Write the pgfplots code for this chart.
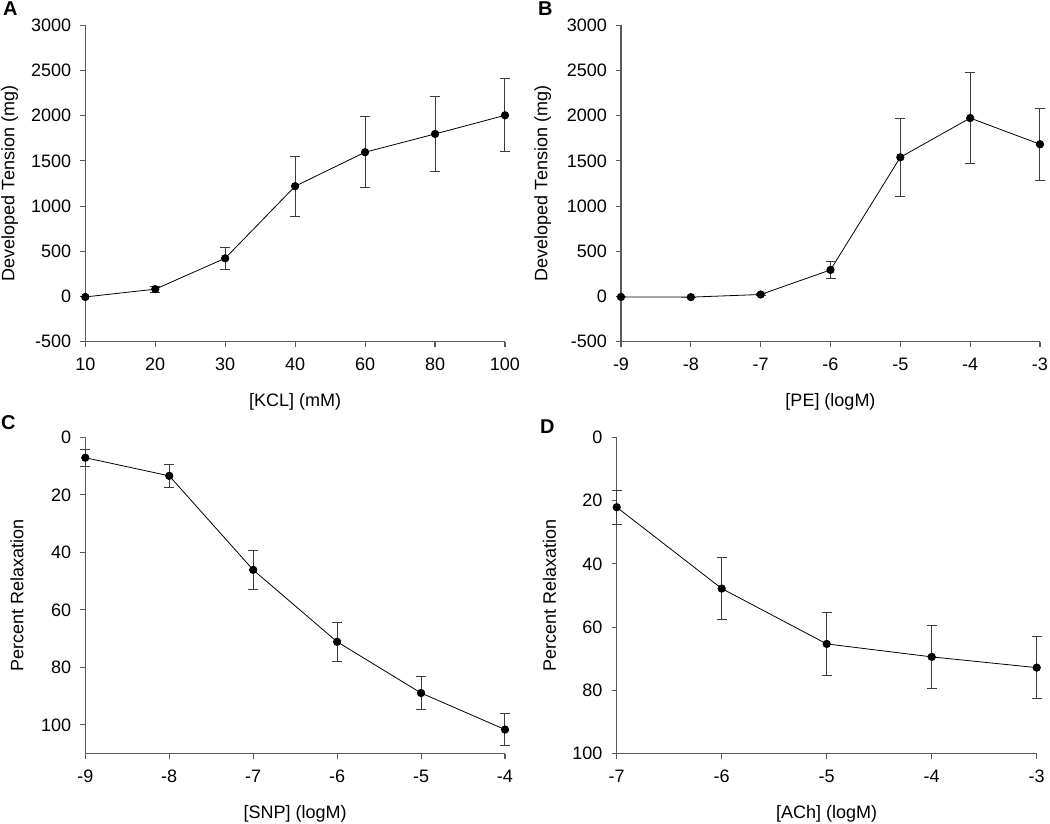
\documentclass[border=0pt]{standalone}
\usepackage{pgfplots}
\pgfplotsset{compat=1.18}
\usepackage{fontspec}
\setmainfont{Liberation Sans}
\definecolor{axgray}{RGB}{90,90,90}
\definecolor{errgray}{RGB}{60,60,60}
\pgfplotsset{
  panel/.style={
    scale only axis,
    height=316.4pt,
    axis lines=left,
    axis line style={-, draw=axgray, line width=1.1pt},
    tick align=outside,
    major tick length=5pt,
    tick style={draw=axgray, line width=1.1pt},
    font=\fontsize{18}{21}\selectfont,
    /pgf/number format/assume math mode=true,
    /pgf/number format/1000 sep={},
    yticklabel style={inner sep=0pt, xshift=-9pt},
    xticklabel style={inner sep=0pt, yshift=-11pt},
    clip=false,
  },
  series/.style={
    black, line width=0.8pt,
    mark=*, mark size=3.7pt, mark options={fill=black, draw=black},
    error bars/.cd, y dir=both, y explicit,
    error bar style={draw=errgray, line width=1pt},
    error mark options={rotate=90, mark size=5pt, draw=errgray, line width=1pt},
  },
}
\begin{document}
\begin{tikzpicture}[x=1pt,y=1pt]
\useasboundingbox (0,0) rectangle (1050,824);

% Panel A
\begin{axis}[panel,
  at={(85.3pt,482.3pt)}, anchor=south west, width=419.7pt,
  xmin=0, xmax=6, ymin=-500, ymax=3000,
  xtick={0,1,2,3,4,5,6},
  xticklabels={10,20,30,40,60,80,100},
  ytick={-500,0,500,1000,1500,2000,2500,3000},
  xlabel={[KCL] (mM)}, ylabel={Developed Tension (mg)},
  xlabel style={at={(axis description cs:0.5,-0.19)}, anchor=center},
  ylabel style={at={(axis description cs:-0.18,0.5)}, anchor=center, rotate=0},
]
\addplot+[series] table[x=x, y=y, y error=e] {
x y e
0 -5 0
1 81 33
2 423 120
3 1220 330
4 1596 395
5 1798 415
6 2004 404
};
\end{axis}

% Panel B
\begin{axis}[panel,
  at={(621pt,482.3pt)}, anchor=south west, width=419pt,
  xmin=-9, xmax=-3, ymin=-500, ymax=3000,
  xtick={-9,-8,-7,-6,-5,-4,-3},
  ytick={-500,0,500,1000,1500,2000,2500,3000},
  xlabel={[PE] (logM)}, ylabel={Developed Tension (mg)},
  xlabel style={at={(axis description cs:0.5,-0.19)}, anchor=center},
  ylabel style={at={(axis description cs:-0.187,0.5)}, anchor=center},
]
\addplot+[series] table[x=x, y=y, y error=e] {
x y e
-9 -5 0
-8 -7 0
-7 22 12
-6 294 95
-5 1540 430
-4 1974 507
-3 1684 397
};
\end{axis}

% Panel C
\begin{axis}[panel,
  at={(85.3pt,70.3pt)}, anchor=south west, width=419.7pt,
  xmin=-9, xmax=-4, ymin=0, ymax=110, y dir=reverse,
  xtick={-9,-8,-7,-6,-5,-4},
  ytick={0,20,40,60,80,100},
  xlabel={[SNP] (logM)}, ylabel={Percent Relaxation},
  xlabel style={at={(axis description cs:0.5,-0.19)}, anchor=center},
  ylabel style={at={(axis description cs:-0.163,0.5)}, anchor=center},
]
\addplot+[series] table[x=x, y=y, y error=e] {
x y e
-9 7.1 3.0
-8 13.4 4.0
-7 46.1 6.8
-6 71.1 6.7
-5 88.9 5.7
-4 101.6 5.6
};
\end{axis}

% Panel D
\begin{axis}[panel,
  at={(616.7pt,70.3pt)}, anchor=south west, width=420pt,
  xmin=-7, xmax=-3, ymin=0, ymax=100, y dir=reverse,
  xtick={-7,-6,-5,-4,-3},
  ytick={0,20,40,60,80,100},
  xlabel={[ACh] (logM)}, ylabel={Percent Relaxation},
  xlabel style={at={(axis description cs:0.5,-0.19)}, anchor=center},
  ylabel style={at={(axis description cs:-0.16,0.5)}, anchor=center},
]
\addplot+[series] table[x=x, y=y, y error=e] {
x y e
-7 22.1 5.4
-6 47.8 9.7
-5 65.3 9.9
-4 69.4 10.0
-3 72.8 9.8
};
\end{axis}

\node[font=\fontsize{20}{24}\selectfont\bfseries, anchor=north west, inner sep=0pt] at (3,822) {A};
\node[font=\fontsize{20}{24}\selectfont\bfseries, anchor=north west, inner sep=0pt] at (538,822) {B};
\node[font=\fontsize{20}{24}\selectfont\bfseries, anchor=north west, inner sep=0pt] at (1,409) {C};
\node[font=\fontsize{20}{24}\selectfont\bfseries, anchor=north west, inner sep=0pt] at (540,404) {D};
\end{tikzpicture}
\end{document}
